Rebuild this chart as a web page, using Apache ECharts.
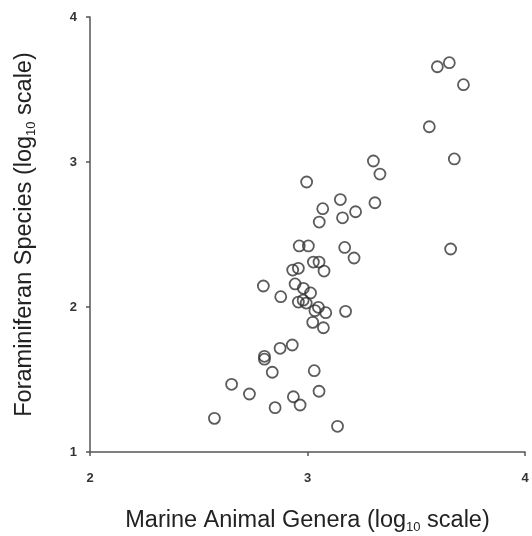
<!DOCTYPE html>
<html>
<head>
<meta charset="utf-8">
<script src="https://cdn.jsdelivr.net/npm/echarts@6/dist/echarts.min.js"></script>
<style>
  html, body { margin: 0; padding: 0; background: #fff; }
  #chart { width: 532px; height: 536px; }
</style>
</head>
<body>
<div id="chart"></div>
<script>
// log10 marine animal genera vs log10 foraminiferan species
var generaLog = [3.597, 3.652, 3.717, 3.560, 3.675, 3.658, 3.303, 3.333, 3.310, 2.996,
    3.151, 3.070, 3.221, 3.161, 3.054, 2.962, 3.004, 3.171, 3.214, 3.027,
    3.053, 3.076, 2.932, 2.958, 2.797, 2.943, 2.981, 3.014, 2.877, 2.958,
    2.980, 2.994, 3.050, 3.084, 3.034, 3.175, 3.024, 3.073, 2.930, 2.874,
    2.802, 2.802, 2.838, 3.031, 2.651, 2.733, 3.053, 2.935, 2.966, 2.851,
    2.572, 3.138];
var speciesLog = [3.657, 3.685, 3.533, 3.243, 3.021, 2.400, 3.007, 2.917, 2.719, 2.862,
    2.741, 2.678, 2.657, 2.615, 2.586, 2.421, 2.421, 2.411, 2.338, 2.310,
    2.310, 2.248, 2.255, 2.267, 2.145, 2.159, 2.129, 2.097, 2.071, 2.034,
    2.047, 2.027, 1.998, 1.961, 1.975, 1.970, 1.894, 1.857, 1.738, 1.715,
    1.660, 1.640, 1.550, 1.561, 1.467, 1.400, 1.419, 1.381, 1.324, 1.306,
    1.232, 1.177];
var xTicks = [2, 3, 4];
var yTicks = [1, 2, 3, 4];

var points = generaLog.map(function (x, i) { return [x, speciesLog[i]]; });

var myChart = echarts.init(document.getElementById('chart'));

var axisText = { color: '#333', fontFamily: 'Liberation Sans', fontSize: 13, fontWeight: 'bold' };
var nameRich = {
    a: { fontFamily: 'Liberation Sans', fontSize: 23.5, color: '#222', lineHeight: 26 },
    s: { fontFamily: 'Liberation Sans', fontSize: 13, color: '#222', lineHeight: 13, verticalAlign: 'bottom' }
};

var option = {
    animation: false,
    grid: { left: 90, right: 7, top: 17, bottom: 84, containLabel: false, outerBoundsMode: 'none' },
    xAxis: {
        type: 'value',
        min: xTicks[0], max: xTicks[xTicks.length - 1], interval: 1,
        name: '{a|Marine Animal Genera (log}{s|10}{a| scale)}',
        nameLocation: 'middle',
        nameGap: 56,
        nameTextStyle: { rich: nameRich },
        axisLine: { lineStyle: { color: '#555', width: 1.5 } },
        axisTick: { show: true, length: 4, lineStyle: { color: '#555', width: 1.5 } },
        axisLabel: Object.assign({ margin: 20 }, axisText),
        splitLine: { show: false }
    },
    yAxis: {
        type: 'value',
        min: yTicks[0], max: yTicks[yTicks.length - 1], interval: 1,
        name: '{a|Foraminiferan Species (log}{s|10}{a| scale)}',
        nameLocation: 'middle',
        nameGap: 52,
        nameRotate: 90,
        nameTextStyle: { rich: nameRich },
        axisLine: { show: true, lineStyle: { color: '#555', width: 1.5 } },
        axisTick: { show: true, length: 4, lineStyle: { color: '#555', width: 1.5 } },
        axisLabel: Object.assign({ margin: 13 }, axisText),
        splitLine: { show: false }
    },
    series: [{
        type: 'scatter',
        data: points,
        symbol: 'circle',
        symbolSize: 11,
        itemStyle: { color: 'rgba(0,0,0,0)', borderColor: '#333', borderWidth: 1.8 }
    }]
};

myChart.setOption(option);
</script>
</body>
</html>
